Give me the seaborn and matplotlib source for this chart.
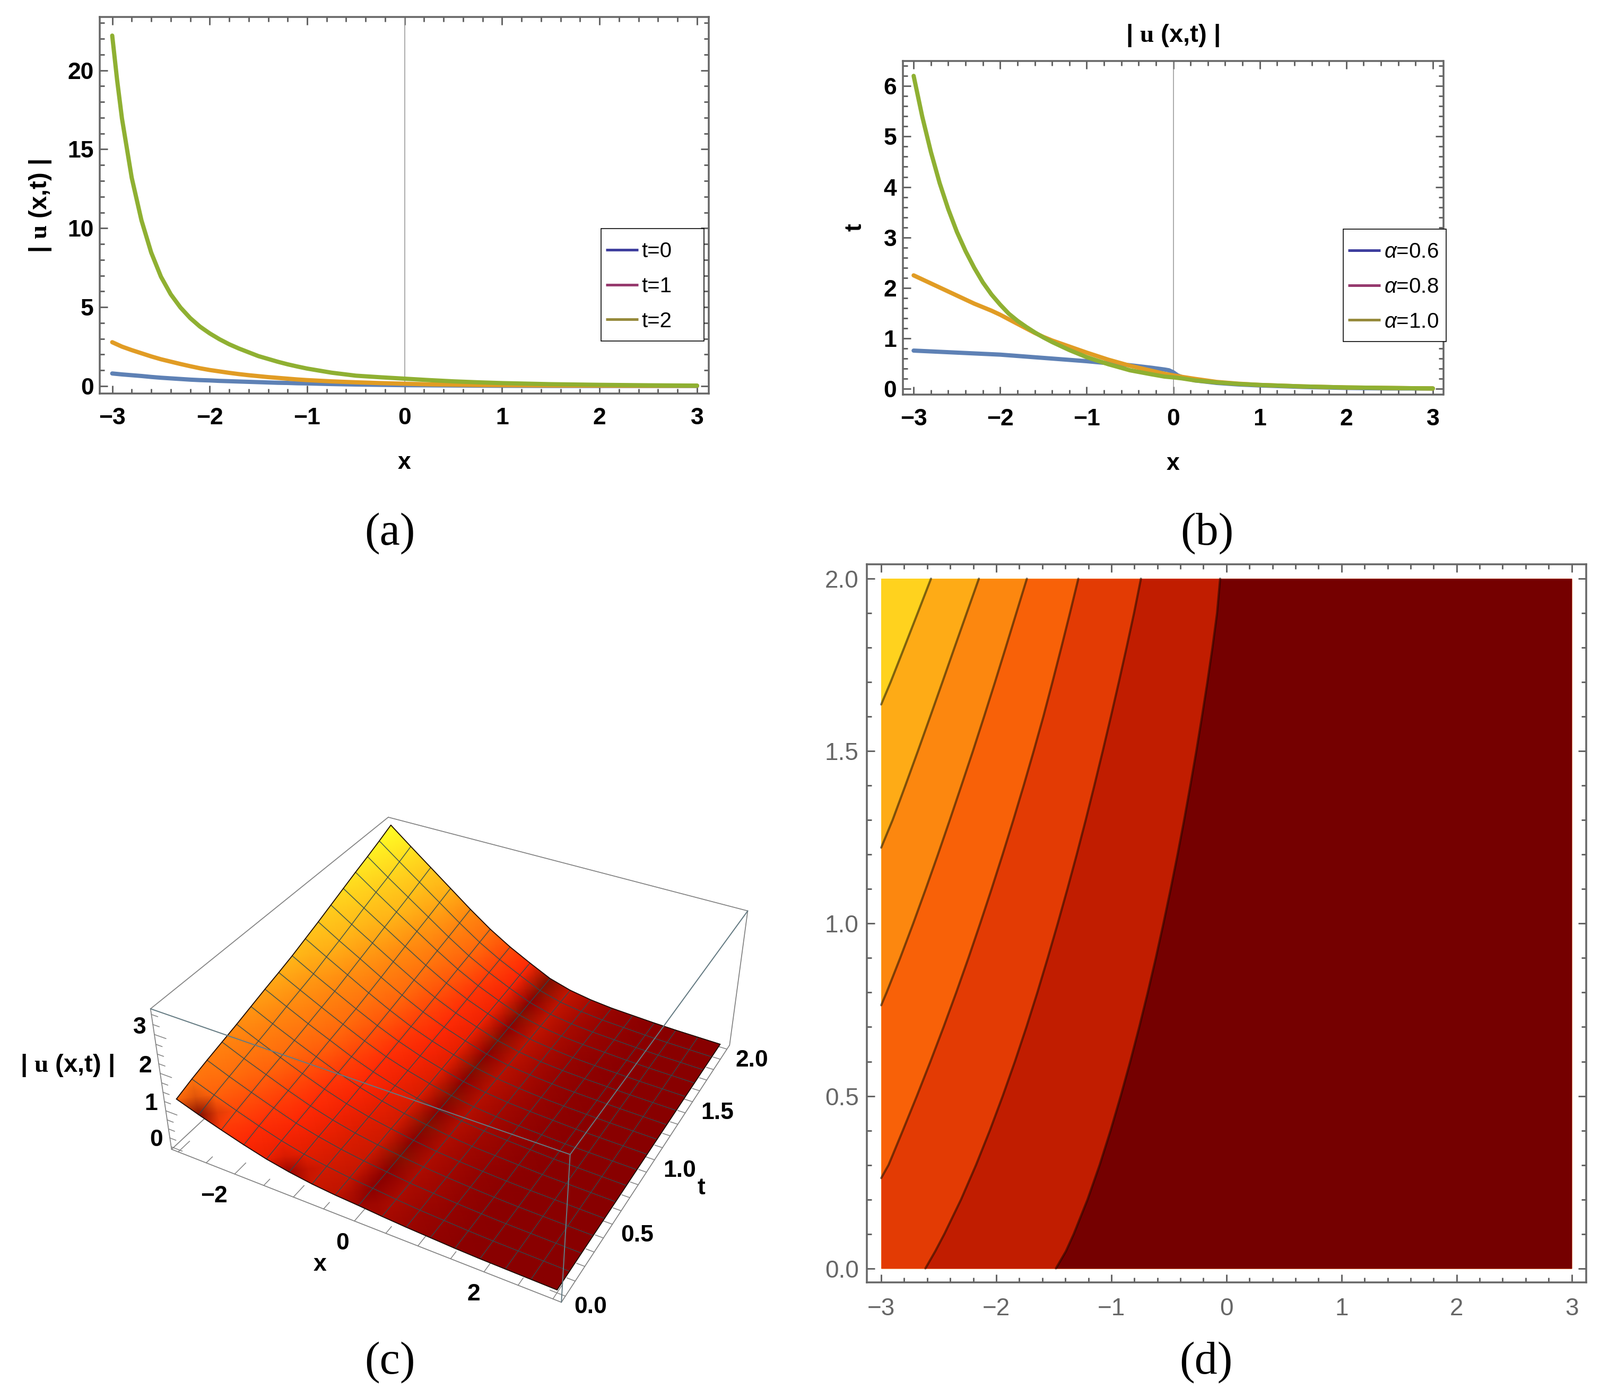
import numpy as np
import matplotlib
matplotlib.use('Agg')
import matplotlib.pyplot as plt
import seaborn as sns
from matplotlib.colors import LinearSegmentedColormap
from matplotlib.lines import Line2D
from matplotlib.patches import Rectangle

sns.set_theme(style='white')
plt.rcParams['font.family'] = ['Liberation Sans', 'DejaVu Sans']
plt.rcParams['mathtext.fontset'] = 'custom'
plt.rcParams['mathtext.it'] = 'Liberation Sans:italic'
plt.rcParams['mathtext.rm'] = 'Liberation Sans'
plt.rcParams['mathtext.bf'] = 'Liberation Serif:bold'

W, H = 3016, 2636
GREY = '#666666'
BLUE, ORANGE, GREEN = '#5E81B5', '#E19C24', '#8FB032'
LEG_COLS = ['#3F3F9E', '#963A6E', '#968A3C']
U_LABEL = r'| $\mathbf{u}$ (x,t) |'

# panel a
xa = [-3, -2.95, -2.9, -2.8, -2.7, -2.6, -2.5, -2.4, -2.3, -2.2, -2.1, -2, -1.9, -1.8, -1.7, -1.6, -1.5, -1.4, -1.3, -1.2, -1.1, -1,
      -.75, -.5, -.25, 0, .25, .5, .75, 1, 1.5, 2, 2.5, 3]
a_t0 = [.80, .77, .74, .69, .64, .58, .53, .49, .45, .41, .38, .36, .33, .31, .29, .27, .25, .23, .21, .2, .18, .17,
        .13, .10, .08, .06, .05, .04, .03, .02, .01, .01, .01, .01]
a_t1 = [2.78, 2.64, 2.5, 2.28, 2.08, 1.88, 1.70, 1.55, 1.40, 1.26, 1.13, 1.02, .93, .84, .76, .69, .63, .57, .52, .47, .42, .38,
        .30, .24, .19, .15, .11, .09, .07, .06, .04, .03, .02, .02]
a_t2 = [22.2, 19.4, 16.95, 13.2, 10.5, 8.46, 6.93, 5.82, 4.98, 4.31, 3.77, 3.34, 2.97, 2.65, 2.38, 2.14, 1.90, 1.72, 1.54, 1.38, 1.24, 1.11,
        .85, .66, .56, .47, .38, .3, .24, .19, .12, .08, .05, .03]
a_labels = ['t=0', 't=1', 't=2']

# panel b
xb = [-3, -2.9, -2.8, -2.7, -2.6, -2.5, -2.4, -2.3, -2.2, -2.1, -2, -1.9, -1.8, -1.7, -1.6, -1.5, -1.4, -1.3, -1.2, -1.1, -1,
      -.75, -.5, -.25, -.1, -.05, 0, .05, .1, .25, .5, .75, 1, 1.5, 2, 2.5, 3]
b_06 = [.76, .752, .744, .736, .728, .72, .712, .704, .696, .688, .68, .667, .654, .641, .628, .615, .602, .589, .576, .563, .55,
        .51, .47, .42, .385, .37, .33, .27, .235, .17, .12, .09, .07, .04, .02, .01, .01]
b_08 = [2.25, 2.17, 2.09, 2.01, 1.93, 1.85, 1.77, 1.69, 1.62, 1.55, 1.47, 1.38, 1.29, 1.2, 1.11, 1.03, .96, .9, .84, .78, .72,
        .58, .46, .36, .30, .285, .27, .255, .24, .20, .14, .105, .08, .05, .03, .02, .01]
b_10 = [6.2, 5.39, 4.69, 4.08, 3.56, 3.11, 2.73, 2.40, 2.11, 1.87, 1.67, 1.49, 1.35, 1.23, 1.12, 1.02, .93, .85, .77, .70, .63,
        .49, .37, .29, .245, .237, .23, .22, .21, .17, .13, .10, .08, .05, .03, .02, .01]
b_labels = [r'$\alpha$=0.6', r'$\alpha$=0.8', r'$\alpha$=1.0']

# panel c, surface heights, one row per t
xc = np.linspace(-3, 3, 17)
tc = np.linspace(0, 2, 17)
zc = np.array([
    [1.26, 1.05, .86, .68, .52, .40, .31, .25, .21, .16, .12, .09, .06, .04, .03, .02, .01],
    [1.41, 1.19, .98, .78, .60, .46, .36, .28, .23, .17, .12, .09, .06, .04, .03, .02, .01],
    [1.54, 1.30, 1.08, .87, .67, .52, .40, .31, .24, .17, .13, .09, .06, .04, .03, .02, .01],
    [1.66, 1.41, 1.18, .95, .74, .57, .43, .33, .25, .18, .13, .09, .06, .04, .03, .02, .01],
    [1.78, 1.52, 1.27, 1.03, .81, .62, .47, .36, .26, .18, .13, .09, .06, .04, .03, .02, .01],
    [1.91, 1.63, 1.37, 1.12, .88, .68, .51, .38, .28, .19, .13, .10, .07, .04, .03, .02, .01],
    [2.04, 1.75, 1.47, 1.21, .95, .73, .55, .41, .29, .20, .14, .10, .07, .04, .03, .02, .01],
    [2.16, 1.86, 1.57, 1.29, 1.02, .78, .59, .43, .30, .20, .14, .10, .07, .04, .03, .02, .01],
    [2.29, 1.97, 1.67, 1.37, 1.09, .84, .63, .46, .31, .21, .14, .10, .07, .04, .03, .02, .01],
    [2.44, 2.11, 1.79, 1.47, 1.17, .90, .68, .49, .33, .22, .15, .10, .07, .05, .03, .02, .01],
    [2.59, 2.24, 1.91, 1.57, 1.25, .96, .72, .52, .34, .22, .15, .10, .07, .05, .03, .02, .01],
    [2.75, 2.38, 2.03, 1.68, 1.34, 1.03, .77, .56, .36, .23, .15, .10, .07, .05, .03, .02, .01],
    [2.91, 2.53, 2.16, 1.79, 1.43, 1.10, .82, .59, .38, .24, .16, .10, .07, .05, .03, .02, .01],
    [3.07, 2.67, 2.28, 1.90, 1.52, 1.17, .87, .62, .39, .25, .16, .11, .08, .05, .03, .02, .01],
    [3.22, 2.80, 2.40, 2.00, 1.60, 1.23, .92, .65, .41, .25, .16, .11, .08, .05, .03, .02, .01],
    [3.38, 2.95, 2.53, 2.11, 1.69, 1.30, .97, .69, .42, .26, .17, .11, .08, .05, .03, .02, .01],
    [3.55, 3.10, 2.66, 2.22, 1.78, 1.37, 1.02, .72, .44, .27, .17, .11, .08, .05, .03, .02, .01],
])
# shading along the x=0 crease, one value per t, and the two smudges on the front edge
band_c = [.12, .05, .0, -.06, .03, -.06, .0, -.06, .03, -.06, .0, -.06, .03, -.06, .0, -.06, -.06]
z_stops = [-.1, 0, .05, .1, .16, .25, .35, .5, .7, .8, 1, 1.26, 1.78, 2.29, 2.7, 3.07, 3.55]
z_cols = ['#7a1a00', '#880000', '#8a0000', '#960400', '#a80a00', '#c01400', '#d01a00', '#e81f00', '#ff2805', '#ff3006',
          '#ff4a08', '#ff6a0c', '#ff8c10', '#ffb818', '#ffcc1c', '#ffe420', '#ffff25']

# panel d, contour lines as (t, x)
t_l1 = [1.635, 1.7, 1.8, 1.9, 2.0]
x_l1 = [-3, -2.918, -2.80, -2.683, -2.567]
t_l2 = [1.22, 1.3, 1.4, 1.5, 1.6, 1.7, 1.8, 1.9, 2.0]
x_l2 = [-3, -2.901, -2.790, -2.681, -2.574, -2.468, -2.363, -2.257, -2.151]
t_l3 = [.763, .8, .9, 1.0, 1.1, 1.2, 1.3, 1.4, 1.5, 1.6, 1.7, 1.8, 1.9, 2.0]
x_l3 = [-3, -2.953, -2.835, -2.722, -2.613, -2.507, -2.404, -2.303, -2.203, -2.106, -2.011, -1.918, -1.826, -1.734]
t_l4 = [.262, .3, .4, .5, .6, .7, .8, .9, 1.0, 1.1, 1.2, 1.3, 1.4, 1.5, 1.6, 1.7, 1.8, 1.9, 2.0]
x_l4 = [-3, -2.936, -2.812, -2.690, -2.572, -2.458, -2.348, -2.242, -2.140, -2.041, -1.945, -1.852, -1.762, -1.675, -1.591, -1.512, -1.435, -1.360, -1.287]
t_l5 = [0, .05, .1, .2, .3, .4, .5, .6, .7, .8, .9, 1.0, 1.1, 1.2, 1.3, 1.4, 1.5, 1.6, 1.7, 1.8, 1.9, 2.0]
x_l5 = [-2.616, -2.53, -2.451, -2.306, -2.176, -2.056, -1.944, -1.838, -1.738, -1.643, -1.553, -1.466, -1.382, -1.301, -1.223, -1.148, -1.075, -1.004, -.935, -.868, -.803, -.743]
t_l6 = t_l5
x_l6 = [-1.482, -1.395, -1.327, -1.207, -1.102, -1.007, -.919, -.836, -.758, -.684, -.614, -.548, -.485, -.425, -.368, -.314, -.262, -.213, -.166, -.122, -.082, -.055]
d_cols = ['#FFD21E', '#FEAB16', '#FC870F', '#F86108', '#E33B04', '#C11D00', '#750000']


def pt(px):
    return px * 0.72


def add_ax(left, top, right, bottom):
    return fig.add_axes([left / W, 1 - bottom / H, (right - left) / W, (bottom - top) / H])


def frame(ax, xminor, yminor, lab_col='black', weight='bold', size=32, pad_x=19, pad_y=8):
    for s in ax.spines.values():
        s.set_visible(True)
        s.set_color(GREY)
        s.set_linewidth(pt(3.5))
    ax.set_xticks(xminor, minor=True)
    ax.set_yticks(yminor, minor=True)
    ax.tick_params(which='major', direction='in', top=True, right=True, bottom=True, left=True,
                   length=pt(15), width=pt(3), color=GREY, labelcolor=lab_col, labelsize=size)
    ax.tick_params(which='minor', direction='in', top=True, right=True, bottom=True, left=True,
                   length=pt(9), width=pt(3), color=GREY)
    ax.tick_params(axis='x', which='major', pad=pad_x)
    ax.tick_params(axis='y', which='major', pad=pad_y)
    for lab in ax.get_xticklabels() + ax.get_yticklabels():
        lab.set_fontweight(weight)


def legend_box(left, top, right, bottom, labels, size=29):
    fig.add_artist(Rectangle((left / W, 1 - bottom / H), (right - left) / W, (bottom - top) / H,
                             transform=fig.transFigure, fc='white', ec='black', lw=pt(1.6), zorder=9))
    hs = [Line2D([], [], color=c, lw=pt(5), solid_capstyle='butt') for c in LEG_COLS]
    leg = fig.legend(hs, labels, loc='upper left', frameon=False, fontsize=size, borderpad=0, borderaxespad=0,
                     bbox_to_anchor=((left + 9) / W, 1 - (top + 24) / H), handlelength=1.52,
                     handletextpad=.16, labelspacing=.69, labelcolor='black')
    leg.set_zorder(10)


def fig_label(x, y, s, **kw):
    fig.text(x / W, 1 - y / H, s, ha='center', va='center', **kw)


fig = plt.figure(figsize=(W / 100, H / 100), dpi=100, facecolor='white')

# (a)
ax = add_ax(188, 32, 1336, 742)
ax.axvline(0, color='#999999', lw=pt(1.6), zorder=1)
for ys, c in zip([a_t0, a_t1, a_t2], [BLUE, ORANGE, GREEN]):
    sns.lineplot(x=xa, y=ys, color=c, lw=pt(8), ax=ax, legend=False, errorbar=None, zorder=3)
ax.set_xlim(-3.128, 3.12)
ax.set_ylim(-.47, 23.38)
ax.set_xticks([-3, -2, -1, 0, 1, 2, 3], ['\u22123', '\u22122', '\u22121', '0', '1', '2', '3'])
ax.set_yticks([0, 5, 10, 15, 20], ['0', '5', '10', '15', '20'])
frame(ax, np.arange(-3, 3.01, .2), np.arange(0, 23.1, 1))
legend_box(1133, 431, 1327, 643, a_labels)
fig_label(762, 873, 'x', fontsize=32, fontweight='bold', color='black')
fig_label(76, 388, U_LABEL, fontsize=34, fontweight='bold', rotation=90, color='black')

# (b)
ax = add_ax(1701.5, 115, 2720.5, 744)
ax.axvline(0, color='#999999', lw=pt(1.6), zorder=1)
for ys, c in zip([b_06, b_08, b_10], [BLUE, ORANGE, GREEN]):
    sns.lineplot(x=xb, y=ys, color=c, lw=pt(8), ax=ax, legend=False, errorbar=None, zorder=3)
ax.set_xlim(-3.127, 3.12)
ax.set_ylim(-.111, 6.495)
ax.set_xticks([-3, -2, -1, 0, 1, 2, 3], ['\u22123', '\u22122', '\u22121', '0', '1', '2', '3'])
ax.set_yticks([0, 1, 2, 3, 4, 5, 6], ['0', '1', '2', '3', '4', '5', '6'])
frame(ax, np.arange(-3, 3.01, .2), np.arange(0, 6.41, .2))
legend_box(2532, 432, 2726, 644, b_labels)
fig_label(2211, 874, 'x', fontsize=32, fontweight='bold', color='black')
fig_label(1612, 429, 't', fontsize=32, fontweight='bold', rotation=90, color='black')
fig_label(2211, 67, U_LABEL, fontsize=34, fontweight='bold', color='black')

# (d)
ax = add_ax(1634, 1064, 2990, 2418)
lines_d = [(t_l1, x_l1), (t_l2, x_l2), (t_l3, x_l3), (t_l4, x_l4), (t_l5, x_l5), (t_l6, x_l6)]
ax.fill_between([-3, 3], 0, 2, color=d_cols[0], lw=0, zorder=1)
for i, (tl, xl) in enumerate(lines_d):
    tf, xf = list(tl), list(xl)
    if tf[0] > 0:
        tf, xf = [0] + tf, [-3] + xf
    ax.fill_betweenx(tf, xf, 3, color=d_cols[i + 1], lw=0, zorder=2 + i)
for tl, xl in lines_d:
    sns.lineplot(x=xl, y=tl, sort=False, estimator=None, color='black', alpha=.5, lw=pt(4), ax=ax, legend=False, zorder=10)
ax.set_xlim(-3.1245, 3.126)
ax.set_ylim(-.0404, 2.0415)
ax.set_xticks([-3, -2, -1, 0, 1, 2, 3], ['\u22123', '\u22122', '\u22121', '0', '1', '2', '3'])
ax.set_yticks([0, .5, 1, 1.5, 2], ['0.0', '0.5', '1.0', '1.5', '2.0'])
frame(ax, np.arange(-3, 3.01, .2), np.arange(0, 2.01, .1), lab_col=GREY, weight='normal', size=33, pad_x=20, pad_y=11)

# (c), perspective box fitted to its corners as they sit in the picture
xr = (-3.12, 3.12)
tr = (-.04, 2.04)
zr = (-.07, 3.64)
corners = [(xr[0], tr[1], zr[1], 732, 1541), (xr[1], tr[1], zr[1], 1409.6, 1717), (xr[0], tr[0], zr[1], 284, 1902),
           (xr[1], tr[0], zr[1], 1074, 2177.5), (xr[0], tr[0], zr[0], 323, 2167), (xr[1], tr[0], zr[0], 1059, 2455),
           (xr[1], tr[1], zr[0], 1375, 1971)]
A, b = [], []
for X, Y, Z, u, v in corners:
    u, v = u / 1000, v / 1000
    A.append([X, Y, Z, 1, 0, 0, 0, 0, -u * X, -u * Y, -u * Z])
    A.append([0, 0, 0, 0, X, Y, Z, 1, -v * X, -v * Y, -v * Z])
    b += [u, v]
cam = np.append(np.linalg.lstsq(np.array(A), np.array(b), rcond=None)[0], 1).reshape(3, 4)


def project(x, t, z):
    x, t, z = np.broadcast_arrays(x, t, z)
    p = cam @ np.array([x.ravel(), t.ravel(), z.ravel(), np.ones(x.size)])
    return (1000 * p[0] / p[2]).reshape(x.shape), (1000 * p[1] / p[2]).reshape(x.shape)


ax = fig.add_axes([0, 0, 1, 1], zorder=-1)
ax.set_xlim(0, W)
ax.set_ylim(H, 0)
ax.axis('off')


def edge(a, b, col='#808080', lw=1.7, zo=1):
    px, py = project(*np.array([a, b]).T)
    ax.plot(px, py, color=col, lw=pt(lw), zorder=zo, solid_capstyle='round')


x0, x1 = xr
t0, t1 = tr
z0, z1 = zr
for a_, b_ in [((x0, t1, z1), (x1, t1, z1)), ((x0, t0, z1), (x0, t1, z1)), ((x1, t1, z0), (x1, t1, z1)),
               ((x0, t0, z0), (x0, t0, z1)), ((x0, t0, z0), (x1, t0, z0)), ((x1, t0, z0), (x1, t1, z0)),
               ((x0, t0, z0), (x0, t1, z0))]:
    edge(a_, b_)
for v in np.arange(-3, 3.01, .5):
    d = .09 if v % 1 == 0 else .05
    edge((v, t0, z0), (v, t0 + d, z0), lw=1.5)
for v in np.arange(0, 2.01, .1):
    d = .22 if abs(v * 2 - round(v * 2)) < 1e-6 else .12
    edge((x1, v, z0), (x1 - d, v, z0), lw=1.5)
for v in np.arange(0, 3.51, .25):
    d = .2 if v % 1 == 0 else .11
    edge((x0, t0, v), (x0 + d, t0, v), lw=1.5)

XX, TT = np.meshgrid(xc, tc)
px, py = project(XX, TT, zc)
shade = zc.copy()
shade[:, 8] = band_c
shade[0, 1] = -.05
shade[0, 5] = .12
lo, hi = z_stops[0], z_stops[-1]
stops = [(s - lo) / (hi - lo) for s in z_stops]
surf_cmap = LinearSegmentedColormap.from_list('surf', list(zip(stops, z_cols)), N=1024)
ax.pcolormesh(px, py, shade, cmap=surf_cmap, vmin=lo, vmax=hi, shading='gouraud', zorder=2)
for j in range(1, len(xc) - 1):
    ax.plot(px[:, j], py[:, j], color='#2f4a50', alpha=.9, lw=pt(1.5), zorder=3)
for i in range(1, len(tc) - 1):
    ax.plot(px[i], py[i], color='#2f4a50', alpha=.9, lw=pt(1.5), zorder=3)
for i in (0, -1):
    ax.plot(px[i], py[i], color='#1a0a00', lw=pt(1.8), zorder=3)
    ax.plot(px[:, i], py[:, i], color='#1a0a00', lw=pt(1.8), zorder=3)
for a_, b_ in [((x0, t0, z1), (x1, t0, z1)), ((x1, t0, z1), (x1, t1, z1)), ((x1, t0, z0), (x1, t0, z1))]:
    edge(a_, b_, col='#647a82', lw=2, zo=4)

for v, s, dx in zip([-2, 0, 2], ['\u22122', '0', '2'], [-39, -22, -20]):
    lx, ly = project(v, t0, z0)
    ax.text(lx + dx, ly + 42, s, ha='center', va='center', fontsize=32, fontweight='bold', color='black', zorder=5)
for v, s in zip([0, .5, 1, 1.5, 2], ['0.0', '0.5', '1.0', '1.5', '2.0']):
    lx, ly = project(x1, v, z0)
    ax.text(lx + 47, ly + 21, s, ha='center', va='center', fontsize=32, fontweight='bold', color='black', zorder=5)
for v, s in zip([0, 1, 2, 3], ['0', '1', '2', '3']):
    lx, ly = project(x0, t0, v)
    ax.text(lx - 28, ly - 13, s, ha='center', va='center', fontsize=32, fontweight='bold', color='black', zorder=5)
ax.text(603, 2384, 'x', ha='center', va='center', fontsize=32, fontweight='bold', color='black', zorder=5)
ax.text(1322, 2240, 't', ha='center', va='center', fontsize=32, fontweight='bold', color='black', zorder=5)
ax.text(127, 2009, U_LABEL, ha='center', va='center', fontsize=34, fontweight='bold', color='black', zorder=5)

for x, y, s in [(735, 1006, '(a)'), (2275, 1006, '(b)'), (735, 2569, '(c)'), (2273, 2569, '(d)')]:
    fig_label(x, y, s, fontsize=62, family='Liberation Serif', color='black')

fig.savefig('out.png', dpi=100)
